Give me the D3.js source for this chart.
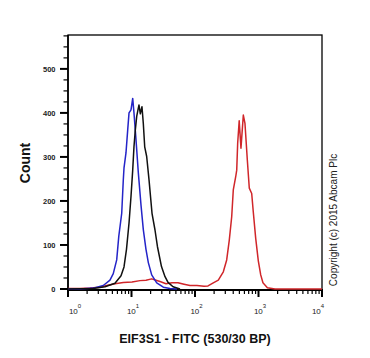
<!DOCTYPE html>
<html><head><meta charset="utf-8">
<script src="https://cdn.jsdelivr.net/npm/d3@7/dist/d3.min.js"></script>
<style>body{margin:0;background:#fff}svg{display:block}</style>
</head><body>
<script>
// ---- data (x as log10 of FITC intensity, y as count) ----
const xTickExps = [0, 1, 2, 3, 4];
const yTicks = [0, 100, 200, 300, 400, 500];

const blackLog = [0,0.394,0.583,0.740,0.835,0.882,0.921,0.961,0.992,1.019,1.039,1.060,1.082,1.102,1.118,1.139,1.165,1.186,1.208,1.239,1.276,1.323,1.370,1.409,1.472,1.528,1.575,1.654,1.764];
const blackCount = [0,1,5,13,30,50,90,150,210,270,323,361,392,407,418,398,414,376,323,301,248,172,134,96,51,28,15,5,0];

const blueLog = [0,0.189,0.398,0.556,0.661,0.713,0.767,0.800,0.846,0.871,0.882,0.913,0.940,0.961,0.992,1.019,1.039,1.071,1.107,1.150,1.186,1.228,1.265,1.318,1.397,1.501,1.606,1.717];
const blueCount = [0,0,2,8,20,35,66,120,172,248,275,309,361,400,407,433,400,339,265,190,135,90,60,32,14,4,1,0];

const redLog = [0,0.189,0.346,0.504,0.609,0.740,0.871,1.008,1.134,1.228,1.318,1.386,1.449,1.543,1.638,1.732,1.827,1.921,2.031,2.142,2.205,2.288,2.367,2.446,2.499,2.540,2.578,2.603,2.641,2.657,2.672,2.696,2.724,2.761,2.787,2.824,2.855,2.893,2.918,2.956,2.997,3.035,3.070,3.140,3.260,4.0];
const redCount = [1,1,2,4,8,12,15,16,19,20,23,20,17,12,14,14,11,8,8,6,7,14,20,39,66,111,164,225,255,270,331,382,320,395,376,293,229,217,175,115,64,32,14,3,0,0];

const W = 370, H = 358;
const svg = d3.select("body").append("svg").attr("width", W).attr("height", H)
  .style("font-family", "'Liberation Sans', Arial, sans-serif");

const x = d3.scaleLog().domain([1, 1e4]).range([68, 322]);
const y = d3.scaleLinear().domain([-2.3, 577]).range([290, 35]);

// frame
svg.append("rect").attr("x", x.range()[0]).attr("y", y.range()[1])
  .attr("width", x.range()[1] - x.range()[0]).attr("height", y.range()[0] - y.range()[1])
  .attr("fill", "none").attr("stroke", "#000").attr("stroke-width", 1.3);

// y axis ticks
const yMinor = d3.range(0, 576, 25);
svg.append("g").selectAll("line").data(yMinor).join("line")
  .attr("x1", d => d % 100 === 0 ? 60 : 63.5).attr("x2", 68)
  .attr("y1", d => y(d)).attr("y2", d => y(d))
  .attr("stroke", "#000").attr("stroke-width", d => d % 100 === 0 ? 2 : 1.2);
svg.append("line").attr("x1", 68).attr("x2", 68).attr("y1", 35).attr("y2", 291)
  .attr("stroke", "#000").attr("stroke-width", 1.6);
svg.append("g").selectAll("text").data(yTicks).join("text")
  .attr("x", 55.5).attr("y", d => y(d)).attr("dy", "0.35em")
  .attr("text-anchor", "end").attr("font-size", 7.5).attr("font-weight", "bold")
  .attr("fill", "#222").text(d => d);

// x axis ticks
const xMinor = [];
for (let e = 0; e < 4; e++) for (let m = 2; m <= 9; m++) xMinor.push(m * Math.pow(10, e));
svg.append("g").selectAll("line").data(xMinor).join("line")
  .attr("x1", d => x(d)).attr("x2", d => x(d)).attr("y1", 290).attr("y2", 294)
  .attr("stroke", "#000").attr("stroke-width", 1.2);
svg.append("g").selectAll("line").data(xTickExps).join("line")
  .attr("x1", d => x(Math.pow(10, d))).attr("x2", d => x(Math.pow(10, d)))
  .attr("y1", 290).attr("y2", 297).attr("stroke", "#000").attr("stroke-width", 2);
svg.append("line").attr("x1", 67).attr("x2", 323).attr("y1", 290).attr("y2", 290)
  .attr("stroke", "#000").attr("stroke-width", 2);

const xl = svg.append("g").selectAll("text").data(xTickExps).join("text")
  .attr("x", d => Math.min(Math.max(x(Math.pow(10, d)) + 1.5, 75), 318))
  .attr("y", 313.5).attr("text-anchor", "middle").attr("font-size", 8).attr("fill", "#222");
xl.append("tspan").text("10");
xl.append("tspan").attr("dy", -5.5).attr("font-size", 6).text(d => d);

// curves
const line = d3.line().x(d => x(Math.pow(10, d[0]))).y(d => y(d[1])).curve(d3.curveLinear);
const series = [
  {lx: redLog, c: redCount, color: "#d0262a"},
  {lx: blueLog, c: blueCount, color: "#2424c8"},
  {lx: blackLog, c: blackCount, color: "#111111"}
];
svg.append("g").selectAll("path").data(series).join("path")
  .attr("d", s => line(s.lx.map((v, i) => [v, s.c[i]])))
  .attr("fill", "none").attr("stroke", s => s.color).attr("stroke-width", 1.5)
  .attr("stroke-linejoin", "round");

// titles
svg.append("text").attr("transform", "translate(30,163) rotate(-90)")
  .attr("text-anchor", "middle").attr("font-size", 14).attr("font-weight", "bold")
  .attr("fill", "#111").text("Count");
svg.append("text").attr("x", 195).attr("y", 342.5).attr("text-anchor", "middle")
  .attr("font-size", 12.5).attr("font-weight", "bold").attr("fill", "#111")
  .text("EIF3S1 - FITC (530/30 BP)");
svg.append("text").attr("transform", "translate(337,220) rotate(-90)")
  .attr("text-anchor", "middle").attr("font-size", 10).attr("fill", "#222")
  .text("Copyright (c) 2015 Abcam Plc");
</script>
</body></html>
